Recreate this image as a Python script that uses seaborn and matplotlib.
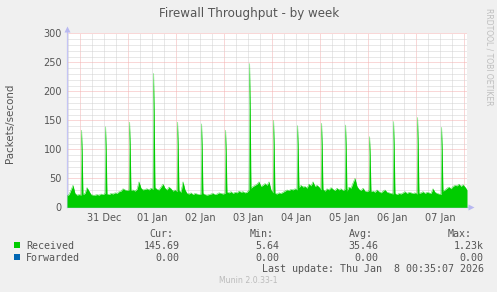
import numpy as np
import pandas as pd
import matplotlib
matplotlib.use("Agg")
import matplotlib.pyplot as plt
import seaborn as sns

# ---------------- data ----------------
title = "Firewall Throughput - by week"
ylabel = "Packets/second"
day_labels = ["31 Dec", "01 Jan", "02 Jan", "03 Jan", "04 Jan", "05 Jan", "06 Jan", "07 Jan"]
label_hours = [18.65, 42.65, 66.65, 90.65, 114.65, 138.65, 162.65, 186.65]
y_ticks = [0, 50, 100, 150, 200, 250, 300]

base_hours = list(range(201))
received_base = [
    20, 22, 30, 38, 24, 21, 22, 21, 22, 24, 34, 28, 22, 21, 21, 22, 21, 23, 22, 24,
    23, 22, 24, 23, 25, 24, 27, 28, 32, 30, 29, 30, 29, 30, 28, 31, 44, 33, 30, 31,
    32, 30, 33, 31, 34, 31, 30, 35, 40, 33, 30, 35, 32, 28, 30, 27, 29, 26, 44, 30,
    24, 23, 25, 22, 24, 23, 22, 23, 24, 22, 21, 22, 23, 24, 22, 23, 25, 24, 23, 24,
    26, 25, 27, 24, 26, 25, 28, 26, 27, 25, 26, 30, 33, 36, 38, 40, 44, 36, 38, 41,
    38, 44, 30, 25, 24, 23, 25, 24, 26, 28, 30, 29, 31, 30, 32, 30, 34, 38, 35, 36,
    33, 40, 37, 44, 36, 38, 35, 30, 31, 28, 32, 30, 34, 31, 29, 33, 30, 32, 29, 31,
    28, 35, 33, 42, 50, 36, 31, 29, 33, 28, 27, 29, 27, 28, 26, 30, 27, 25, 28, 30,
    26, 25, 24, 23, 24, 22, 24, 23, 25, 27, 24, 26, 25, 24, 25, 23, 24, 25, 27, 24,
    26, 25, 24, 32, 26, 24, 23, 22, 28, 30, 33, 35, 32, 36, 38, 37, 40, 36, 39, 35,
    30,
]
spike_hours = [7.35, 19.35, 31.35, 43.35, 55.35, 67.35, 79.35, 91.35,
               103.35, 115.35, 127.35, 139.35, 151.35, 163.35, 175.35, 187.35]
spike_values = [133, 139, 147, 231, 147, 144, 133, 248,
                150, 141, 145, 142, 122, 148, 155, 138]

legend_names = ["Received", "Forwarded"]
legend_colors = ["#00CC00", "#0066B3"]
stat_headers = ["Cur:", "Min:", "Avg:", "Max:"]
stat_values = [["145.69", "5.64", "35.46", "1.23k"],
               ["0.00", "0.00", "0.00", "0.00"]]
last_update = "Last update: Thu Jan  8 00:35:07 2026"
footer = "Munin 2.0.33-1"
watermark = "RRDTOOL / TOBI OETIKER"

# ---------------- build frame ----------------
df = pd.concat([
    pd.DataFrame({"hour": base_hours, "value": received_base}),
    pd.DataFrame({"hour": spike_hours, "value": spike_values}),
]).sort_values("hour").reset_index(drop=True)

# ---------------- style ----------------
sns.set_style("white")
plt.rcParams["font.family"] = ["DejaVu Sans"]

W, H = 497, 292
BG = "#F0F0F0"
TXT = "#555555"
fig = plt.figure(figsize=(W / 100, H / 100), dpi=100, facecolor=BG)

x0, x1, ytop, ybot = 67, 467, 33.3, 207.3
ax = fig.add_axes([x0 / W, (H - ybot) / H, (x1 - x0) / W, (ybot - ytop) / H])
ax.set_facecolor("white")
ax.set_xlim(0, 200)
ax.set_ylim(0, 300)

MINOR = "#D2D2D2"
MAJOR = "#F4B0B0"
dot = (0, (1, 1))
# vertical grid (every 6h, major every 24h)
for k in range(34):
    v = 0.65 + 6 * k
    if v > 200:
        break
    major = (k - 1) % 4 == 0
    ax.axvline(v, color=MAJOR if major else MINOR, lw=0.72, ls=dot, zorder=1)
for yv in range(10, 301, 10):
    ax.axhline(yv, color=MAJOR if yv % 50 == 0 else MINOR, lw=0.72, ls=dot, zorder=1)

# data
ax.fill_between(df["hour"], df["value"], 0, color=legend_colors[0], lw=0, zorder=3)
sns.lineplot(data=df, x="hour", y="value", color=legend_colors[0], lw=0.25,
             ax=ax, zorder=3, legend=False)

# spines
for s in ["top", "right"]:
    ax.spines[s].set_visible(False)
AX = "#C4C4F4"
ax.spines["left"].set_color(AX)
ax.spines["bottom"].set_color(AX)
ax.spines["left"].set_linewidth(0.9)
ax.spines["bottom"].set_linewidth(0.9)
ax.plot([0, 0], [1, 1 + 4.0 / 174], color=AX, lw=0.9, transform=ax.transAxes, clip_on=False)
ax.plot([1, 1 + 3.0 / 400], [0, 0], color=AX, lw=0.9, transform=ax.transAxes, clip_on=False)
ax.plot([0], [1 + 4.8 / 174], marker="^", ms=4, color="#B8B8F0", mec="none",
        transform=ax.transAxes, clip_on=False, zorder=5)
ax.plot([1 + 4.0 / 400], [0], marker=">", ms=4, color="#B8B8F0", mec="none",
        transform=ax.transAxes, clip_on=False, zorder=5)

ax.set_xticks(label_hours)
ax.set_xticklabels(day_labels)
ax.set_yticks(y_ticks)
ax.set_yticklabels([str(v) for v in y_ticks])
ax.tick_params(axis="both", which="major", length=0, labelsize=7, colors=TXT)
ax.tick_params(axis="x", pad=4.2)
ax.tick_params(axis="y", pad=3.6)
ax.set_xlabel("")
ax.set_ylabel("")

def px(x, y):
    return x / W, 1 - y / H

fig.text(*px(249, 14), title, ha="center", va="center", fontsize=8.6, color=TXT)
fig.text(*px(10, 123), ylabel, ha="center", va="center", rotation=90, fontsize=7.4, color=TXT)
fig.text(*px(488.5, 56.5), watermark, ha="center", va="center", rotation=-90,
         fontsize=5.5, color="#BEBEBE")

MONO = ["DejaVu Sans Mono"]
fs = 7.2
hdr_x = [149, 249.5, 349, 448]
for hx, h in zip(hdr_x, stat_headers):
    fig.text(*px(hx, 236.7), h, ha="left", va="baseline", family=MONO, fontsize=fs, color=TXT)

row_y = [249, 260.7]
val_right = [179.5, 279.5, 378.5, 483.5]
for i, (name, col) in enumerate(zip(legend_names, legend_colors)):
    yb = row_y[i]
    fig.patches.append(plt.Rectangle(px(14, yb - 0.8), 6 / W, 6 / H, transform=fig.transFigure,
                                     facecolor=col, edgecolor="none", figure=fig))
    fig.text(*px(26.2, yb), name, ha="left", va="baseline", family=MONO, fontsize=fs, color=TXT)
    for vx, v in zip(val_right, stat_values[i]):
        fig.text(*px(vx, yb), v, ha="right", va="baseline", family=MONO, fontsize=fs, color=TXT)

fig.text(*px(484, 272.3), last_update, ha="right", va="baseline", family=MONO, fontsize=fs, color=TXT)
fig.text(*px(248.5, 283.3), footer, ha="center", va="baseline", fontsize=5.6, color="#BBBBBB")

fig.savefig("out.png", dpi=100, facecolor=BG)
